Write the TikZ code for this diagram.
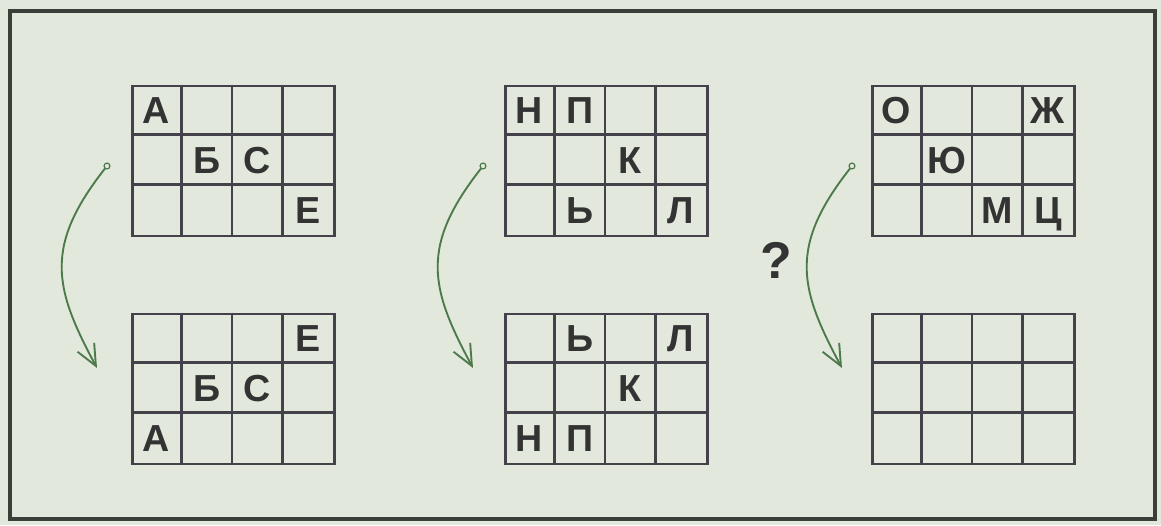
\documentclass[tikz,border=0pt]{standalone}
\usepackage{fontspec}
\setmainfont{Liberation Sans}
\usetikzlibrary{positioning}
\usetikzlibrary{arrows.meta}

\definecolor{paper}{HTML}{E3E8DC}
\definecolor{frameline}{HTML}{3A3E38}
\definecolor{gridline}{HTML}{45414B}
\definecolor{arrowgreen}{HTML}{4C7A4A}
\definecolor{letterink}{HTML}{333333}

\begin{document}
\begin{tikzpicture}[
    x=0.85pt, y=-0.85pt,
    board/.style={
        draw=gridline,
        line width=2.2pt,
        anchor=north west,
        inner sep=0pt,
        minimum width=171.7pt,
        minimum height=127.5pt,
    },
    cellline/.style={draw=gridline, line width=1.9pt},
    letter/.style={
        anchor=base,
        inner sep=0pt,
        text=letterink,
        font=\fontsize{32}{32}\selectfont\bfseries
    },
    pin/.style={
        draw=arrowgreen,
        fill=paper,
        circle,
        line width=1pt,
        inner sep=0pt,
        minimum size=5pt
    },
    turn/.style={draw=arrowgreen, line width=1.6pt, -{Straight Barb[length=18pt, width=16pt]}}
]

\fill[paper] (0,0) rectangle (1161,525);
\draw[frameline, line width=3.4pt] (10,10.5) rectangle (1155,519);

\foreach \g/\gx/\gy in {a/131/84.5, b/131/312.5, c/504/84.5, d/504/312.5, e/871/84.5, f/871/312.5} {
    \node[board] (\g) at (\gx,\gy) {};
    \foreach \i in {1,2,3}
        \draw[cellline] ({\gx+\i*50.5},\gy) -- ({\gx+\i*50.5},{\gy+150});
    \foreach \j in {1,2}
        \draw[cellline] (\gx,{\gy+\j*50}) -- ({\gx+202},{\gy+\j*50});
}

\foreach \g/\gx/\gy/\c/\r/\t in {
    a/131/84.5/1/1/А, a/131/84.5/2/2/Б, a/131/84.5/3/2/С, a/131/84.5/4/3/Е,
    b/131/312.5/4/1/Е, b/131/312.5/2/2/Б, b/131/312.5/3/2/С, b/131/312.5/1/3/А,
    c/504/84.5/1/1/Н, c/504/84.5/2/1/П, c/504/84.5/3/2/К, c/504/84.5/2/3/Ь, c/504/84.5/4/3/Л,
    d/504/312.5/2/1/Ь, d/504/312.5/4/1/Л, d/504/312.5/3/2/К, d/504/312.5/1/3/Н, d/504/312.5/2/3/П,
    e/871/84.5/1/1/О, e/871/84.5/4/1/Ж, e/871/84.5/2/2/Ю, e/871/84.5/3/3/М, e/871/84.5/4/3/Ц}
    \node[letter] (\g\c\r) at ({\gx+(\c-0.5)*50.5},{\gy+(\r-0.5)*50+14}) {\t};

\foreach \g/\sx in {a/107, c/483, e/852} {
    \coordinate (\g tip) at ({\sx-10},368);
    \draw[turn] ({\sx},166) .. controls ({\sx-64},246) and ({\sx-53},288) .. (\g tip);
    \node[pin] (\g pin) at ({\sx},166) {};
}

\node[letter, font=\fontsize{44}{44}\selectfont\bfseries] (ask) at (776,278) {?};

\end{tikzpicture}
\end{document}
